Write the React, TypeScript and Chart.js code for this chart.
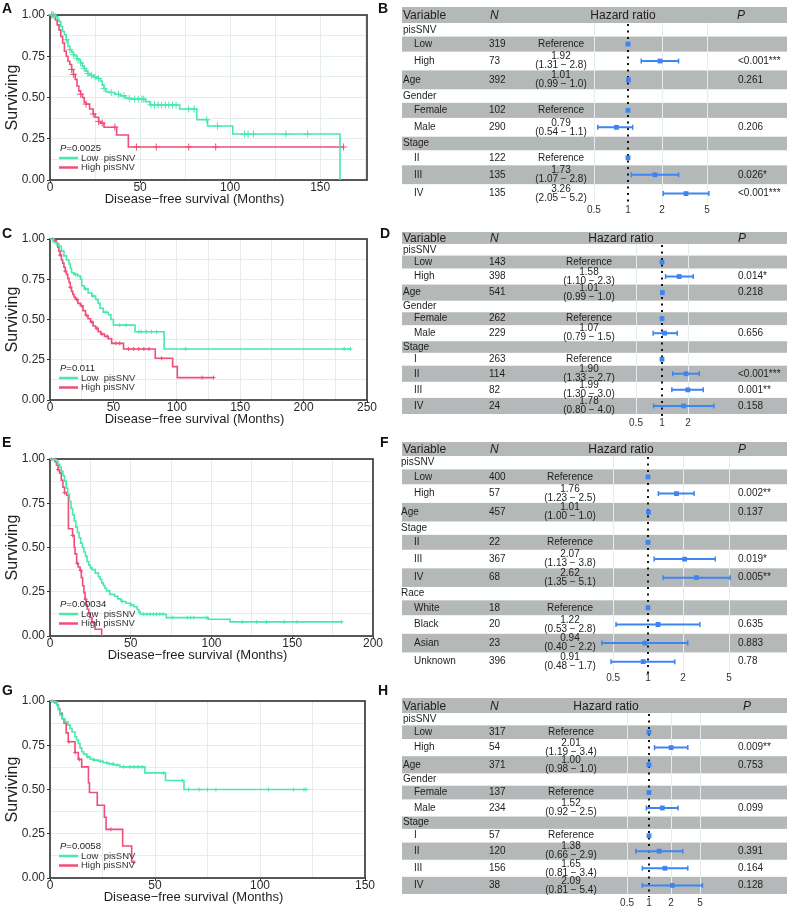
import React, { useEffect, useRef } from 'react';
import { Chart, registerables } from 'chart.js';

Chart.register(...registerables);

const FONT = '"Liberation Sans", Arial, Helvetica, sans-serif';
const GREEN = '#47e9ad';
const RED = '#f04d78';
const BLUE = '#3d85f2';
const BAND = '#b5b8b8';
const GRID = '#e5ecec';
const INK = '#1e1e1e';

// ---------------- Kaplan-Meier data ----------------
// Panel A
const aLowTime = [0, 2, 3, 4, 5, 6, 7, 8, 9, 10, 11, 12, 13, 14, 15, 16, 17, 18, 19, 20, 21, 22, 24, 26, 28, 29, 30, 31, 33, 36, 39, 42, 45, 53, 55.5, 72, 81.5, 87.5, 101.5, 161];
const aLowSurv = [1, 1, 0.99, 0.975, 0.96, 0.93, 0.9, 0.88, 0.85, 0.81, 0.79, 0.775, 0.76, 0.75, 0.735, 0.725, 0.71, 0.69, 0.675, 0.66, 0.645, 0.635, 0.625, 0.615, 0.6, 0.575, 0.555, 0.535, 0.53, 0.52, 0.51, 0.495, 0.49, 0.475, 0.455, 0.43, 0.365, 0.327, 0.279, 0];
const aLowCensor = [1, 2, 3, 9, 11, 13, 15, 17, 19, 21, 23, 25, 27, 30, 34, 38, 41, 44, 47, 49, 51, 52, 56, 58, 60, 62, 64, 66, 68, 70, 77, 80, 87, 93, 108, 110, 113, 131, 143];
const aHighTime = [0, 3, 4, 5, 6, 7, 8, 9, 10, 11, 12, 13, 14, 15, 16, 17, 18, 19, 20, 22, 24, 25, 27, 28, 30, 37, 43.5, 163];
const aHighSurv = [1, 0.97, 0.94, 0.91, 0.87, 0.83, 0.78, 0.75, 0.72, 0.7, 0.67, 0.64, 0.61, 0.57, 0.54, 0.52, 0.5, 0.47, 0.46, 0.43, 0.4, 0.38, 0.355, 0.345, 0.32, 0.273, 0.2, 0.2];
const aHighCensor = [1, 12, 13, 17, 20, 24, 27, 29, 36, 48, 59, 77, 92, 163];
const aP = '0.0025';

// Panel C
const cLowTime = [0, 2.6, 5, 7, 9, 11, 13, 15, 16, 17, 19, 22, 24, 25, 27, 30, 33, 36, 38, 39.5, 42, 46, 48, 50, 67, 90, 237];
const cLowSurv = [1, 0.98, 0.97, 0.955, 0.925, 0.895, 0.87, 0.845, 0.82, 0.79, 0.78, 0.77, 0.75, 0.71, 0.69, 0.665, 0.645, 0.625, 0.6, 0.57, 0.545, 0.53, 0.5, 0.465, 0.424, 0.317, 0.317];
const cLowCensor = [2, 20, 28, 34, 44, 55, 60, 70, 72, 76, 80, 84, 107, 232, 237];
const cHighTime = [0, 3, 5, 6, 7, 8, 9, 10, 11, 12, 13, 14, 15, 16, 17, 18, 19, 20, 22, 24, 26, 28, 30, 32, 34, 36, 38, 40, 43, 46, 48.6, 58, 83, 96.7, 100.4, 129];
const cHighSurv = [1, 0.99, 0.975, 0.95, 0.925, 0.9, 0.87, 0.85, 0.825, 0.8, 0.78, 0.755, 0.73, 0.7, 0.675, 0.655, 0.64, 0.625, 0.6, 0.585, 0.555, 0.525, 0.505, 0.485, 0.46, 0.445, 0.425, 0.41, 0.395, 0.38, 0.352, 0.317, 0.259, 0.207, 0.139, 0.139];
const cHighCensor = [4, 8, 12, 16, 21, 25, 29, 33, 37, 41, 45, 52, 55, 62, 66, 70, 74, 78, 88, 120, 129];
const cP = '0.011';

// Panel E
const eLowTime = [0, 2, 4, 5, 6, 7, 8, 9, 10, 11, 12, 13, 14, 15, 16, 17, 18, 19, 20, 21, 22, 23, 24, 25, 26, 28, 30, 31, 32, 33, 34, 35, 37, 40, 42, 44, 47, 50, 52, 54, 55, 56, 72, 98, 111.5, 180.6];
const eLowSurv = [1, 0.995, 0.985, 0.97, 0.955, 0.93, 0.905, 0.875, 0.835, 0.8, 0.76, 0.72, 0.685, 0.65, 0.615, 0.585, 0.555, 0.525, 0.5, 0.475, 0.45, 0.42, 0.4, 0.385, 0.375, 0.355, 0.335, 0.32, 0.3, 0.285, 0.27, 0.255, 0.235, 0.225, 0.21, 0.195, 0.185, 0.175, 0.165, 0.15, 0.135, 0.123, 0.104, 0.095, 0.08, 0.08];
const eLowCensor = [1, 3, 45, 50, 58, 60, 62, 64, 66, 68, 70, 76, 85, 87, 89, 97, 119, 128, 134, 145, 153, 180.6];
const eHighTime = [0, 3, 4, 5, 6, 7, 8, 9, 10.3, 11.4, 14, 15, 15.5, 16.5, 17.5, 18.6, 19.4, 20.2, 21, 21.7, 22.5, 23.1, 24, 24.8, 26, 27.9, 32];
const eHighSurv = [1, 0.985, 0.966, 0.94, 0.92, 0.88, 0.84, 0.81, 0.795, 0.606, 0.568, 0.5, 0.464, 0.41, 0.39, 0.37, 0.33, 0.284, 0.245, 0.208, 0.175, 0.151, 0.125, 0.104, 0.075, 0.038, 0];
const eHighCensor = [5, 9, 14, 17, 19, 22];
const eP = '0.00034';

// Panel G
const gLowTime = [0, 1.6, 3.2, 4, 4.8, 6, 7.1, 8.5, 9.5, 10.5, 11.9, 12.7, 13.5, 14.3, 15.1, 16, 17.5, 19, 20.6, 23, 25.4, 28, 30.2, 33.3, 45.2, 55, 63.8, 122];
const gLowSurv = [1, 0.995, 0.977, 0.95, 0.921, 0.9, 0.883, 0.865, 0.845, 0.825, 0.798, 0.78, 0.76, 0.735, 0.713, 0.7, 0.685, 0.672, 0.666, 0.66, 0.651, 0.645, 0.638, 0.628, 0.594, 0.551, 0.5, 0.5];
const gLowCensor = [1, 2, 18, 21, 24, 27, 30, 32, 35, 38, 40, 42, 44, 54, 63, 66, 71, 75, 79, 104, 116, 121, 122];
const gHighTime = [0, 2.4, 3.2, 4, 4.8, 5.8, 6.7, 7.7, 8.7, 11.9, 13.5, 15.1, 18.3, 18.8, 22.5, 25.9, 26.7, 34.6, 38.9, 40];
const gHighSurv = [1, 0.99, 0.977, 0.955, 0.93, 0.9, 0.874, 0.82, 0.77, 0.709, 0.67, 0.628, 0.538, 0.483, 0.411, 0.343, 0.275, 0.181, 0.09, 0.09];
const gHighCensor = [9, 12, 14, 29, 40];
const gP = '0.0058';

const kmLegend = ['Low  pisSNV', 'High pisSNV'];

// ---------------- Forest data ----------------
const bVar = ['pisSNV', '', '', 'Age', 'Gender', '', '', 'Stage', '', '', ''];
const bLevel = ['', 'Low', 'High', '', '', 'Female', 'Male', '', 'II', 'III', 'IV'];
const bN = [null, 319, 73, 392, null, 102, 290, null, 122, 135, 135];
const bHR = [null, null, 1.92, 1.01, null, null, 0.79, null, null, 1.73, 3.26];
const bLo = [null, null, 1.31, 0.99, null, null, 0.54, null, null, 1.07, 2.05];
const bHi = [null, null, 2.8, 1.0, null, null, 1.1, null, null, 2.8, 5.2];
const bP = ['', '', '<0.001***', '0.261', '', '', '0.206', '', '', '0.026*', '<0.001***'];
const bTicks = [0.5, 1, 2, 5];

const dVar = ['pisSNV', '', '', 'Age', 'Gender', '', '', 'Stage', '', '', '', ''];
const dLevel = ['', 'Low', 'High', '', '', 'Female', 'Male', '', 'I', 'II', 'III', 'IV'];
const dN = [null, 143, 398, 541, null, 262, 229, null, 263, 114, 82, 24];
const dHR = [null, null, 1.58, 1.01, null, null, 1.07, null, null, 1.9, 1.99, 1.78];
const dLo = [null, null, 1.1, 0.99, null, null, 0.79, null, null, 1.33, 1.3, 0.8];
const dHi = [null, null, 2.3, 1.0, null, null, 1.5, null, null, 2.7, 3.0, 4.0];
const dP = ['', '', '0.014*', '0.218', '', '', '0.656', '', '', '<0.001***', '0.001**', '0.158'];
const dTicks = [0.5, 1, 2];

const fVar = ['pisSNV', '', '', 'Age', 'Stage', '', '', '', 'Race', '', '', '', ''];
const fLevel = ['', 'Low', 'High', '', '', 'II', 'III', 'IV', '', 'White', 'Black', 'Asian', 'Unknown'];
const fN = [null, 400, 57, 457, null, 22, 367, 68, null, 18, 20, 23, 396];
const fHR = [null, null, 1.76, 1.01, null, null, 2.07, 2.62, null, null, 1.22, 0.94, 0.91];
const fLo = [null, null, 1.23, 1.0, null, null, 1.13, 1.35, null, null, 0.53, 0.4, 0.48];
const fHi = [null, null, 2.5, 1.0, null, null, 3.8, 5.1, null, null, 2.8, 2.2, 1.7];
const fP = ['', '', '0.002**', '0.137', '', '', '0.019*', '0.005**', '', '', '0.635', '0.883', '0.78'];
const fTicks = [0.5, 1, 2, 5];

const hVar = ['pisSNV', '', '', 'Age', 'Gender', '', '', 'Stage', '', '', '', ''];
const hLevel = ['', 'Low', 'High', '', '', 'Female', 'Male', '', 'I', 'II', 'III', 'IV'];
const hN = [null, 317, 54, 371, null, 137, 234, null, 57, 120, 156, 38];
const hHR = [null, null, 2.01, 1.0, null, null, 1.52, null, null, 1.38, 1.65, 2.09];
const hLo = [null, null, 1.19, 0.98, null, null, 0.92, null, null, 0.66, 0.81, 0.81];
const hHi = [null, null, 3.4, 1.0, null, null, 2.5, null, null, 2.9, 3.4, 5.4];
const hP = ['', '', '0.009**', '0.753', '', '', '0.099', '', '', '0.391', '0.164', '0.128'];
const hTicks = [0.5, 1, 2, 5];

// ---------------- helpers ----------------
function txt(ctx: any, s: string, x: number, y: number, size: number, align: string = 'left', style: string = 'normal', weight: string = 'normal', color: string = INK) {
  ctx.font = `${style} ${weight} ${size}px ${FONT}`;
  ctx.textAlign = align;
  ctx.textBaseline = 'middle';
  ctx.fillStyle = color;
  ctx.fillText(s, x, y);
}

function stepValue(t: number[], s: number[], c: number) {
  let v = s[0];
  for (let i = 0; i < t.length; i++) if (t[i] <= c) v = s[i];
  return v;
}

function KMPanel(p: any) {
  const ref = useRef<HTMLCanvasElement | null>(null);
  useEffect(() => {
    const canvas = ref.current;
    if (!canvas) return;
    const xAxisH = p.top + p.height - p.plotBottom;
    const pts = (t: number[], s: number[]) => t.map((x, i) => ({ x, y: s[i] }));
    const cens = (t: number[], s: number[], c: number[]) => c.map((x) => ({ x, y: stepValue(t, s, x) }));
    const plugin = {
      id: 'kmDecor',
      beforeDatasetsDraw(chart: any) {
        const { ctx, chartArea: a } = chart;
        ctx.save();
        ctx.strokeStyle = '#3c3c3c';
        ctx.lineWidth = 1.7;
        ctx.strokeRect(a.left, a.top, a.right - a.left, a.bottom - a.top);
        ctx.restore();
      },
      afterDraw(chart: any) {
        const { ctx, chartArea: a } = chart;
        ctx.save();
        ctx.translate(12.5, (a.top + a.bottom) / 2);
        ctx.rotate(-Math.PI / 2);
        txt(ctx, 'Surviving', 0, 0, 16, 'center');
        ctx.restore();
        ctx.save();
        txt(ctx, 'Disease\u2212free survival (Months)', (a.left + a.right) / 2 - 14, a.bottom + 19.5, 13, 'center');
        const lx0 = a.left + 9;
        const lx1 = a.left + 28;
        const yP = a.bottom - 32;
        const yL = a.bottom - 22;
        const yH = a.bottom - 12.5;
        txt(ctx, 'P', lx0 + 1, yP, 9.5, 'left', 'italic');
        const w = ctx.measureText('P').width;
        txt(ctx, '=' + p.pval, lx0 + 1 + w, yP, 9.5, 'left');
        ctx.lineWidth = 2.5;
        ctx.strokeStyle = GREEN;
        ctx.beginPath(); ctx.moveTo(lx0, yL); ctx.lineTo(lx1, yL); ctx.stroke();
        ctx.strokeStyle = RED;
        ctx.beginPath(); ctx.moveTo(lx0, yH); ctx.lineTo(lx1, yH); ctx.stroke();
        txt(ctx, kmLegend[0], lx1 + 3, yL, 9.5, 'left', 'normal', 'normal', '#333');
        txt(ctx, kmLegend[1], lx1 + 3, yH, 9.5, 'left', 'normal', 'normal', '#333');
        ctx.restore();
      },
    };
    const chart = new Chart(canvas, {
      type: 'scatter',
      data: {
        datasets: [
          { data: pts(p.lowT, p.lowS), showLine: true, stepped: true, borderColor: GREEN, borderWidth: 1.6, pointRadius: 0, clip: 4 } as any,
          { data: pts(p.highT, p.highS), showLine: true, stepped: true, borderColor: RED, borderWidth: 1.6, pointRadius: 0, clip: 4 } as any,
          { data: cens(p.lowT, p.lowS, p.lowC), pointStyle: 'cross', pointRadius: p.cr, pointBorderWidth: 1, pointBorderColor: GREEN, borderColor: GREEN, clip: false } as any,
          { data: cens(p.highT, p.highS, p.highC), pointStyle: 'cross', pointRadius: p.cr, pointBorderWidth: 1, pointBorderColor: RED, borderColor: RED, clip: false } as any,
        ],
      },
      options: {
        animation: false,
        responsive: false,
        events: [],
        layout: { padding: { left: 0, right: p.width - p.plotRight, top: p.plotTop - p.top, bottom: 0 }, autoPadding: false } as any,
        plugins: { legend: { display: false }, tooltip: { enabled: false } },
        scales: {
          x: {
            type: 'linear',
            min: 0,
            max: p.xMax,
            afterFit: (s: any) => { s.height = xAxisH; },
            border: { display: false },
            grid: {
              color: GRID,
              lineWidth: 1,
              tickLength: 3,
              tickColor: (ctx: any) => (ctx.tick && ctx.tick.value % 50 === 0 ? '#333' : 'rgba(0,0,0,0)'),
            },
            ticks: {
              stepSize: 25,
              includeBounds: false,
              autoSkip: false,
              maxRotation: 0,
              padding: -3,
              color: '#2a2a2a',
              font: { family: FONT, size: 12 },
              callback: (v: any) => (Number(v) % 50 === 0 ? String(v) : ''),
            },
          } as any,
          y: {
            type: 'linear',
            min: 0,
            max: 1,
            afterFit: (s: any) => { s.width = p.plotLeft; },
            border: { display: false },
            grid: {
              color: GRID,
              lineWidth: 1,
              tickLength: 3,
              tickColor: (ctx: any) => (ctx.tick && Math.abs(ctx.tick.value * 4 - Math.round(ctx.tick.value * 4)) < 1e-6 ? '#333' : 'rgba(0,0,0,0)'),
            },
            ticks: {
              stepSize: 0.125,
              autoSkip: false,
              padding: 2,
              color: '#2a2a2a',
              font: { family: FONT, size: 12 },
              callback: (v: any) => (Math.abs(Number(v) * 4 - Math.round(Number(v) * 4)) < 1e-6 ? Number(v).toFixed(2) : ''),
            },
          } as any,
        },
      },
      plugins: [plugin as any],
    });
    return () => chart.destroy();
  }, []);
  return (
    <canvas
      ref={ref}
      width={p.width}
      height={p.height}
      style={{ position: 'absolute', left: p.left, top: p.top, width: p.width, height: p.height }}
    />
  );
}

function ForestPanel(p: any) {
  const ref = useRef<HTMLCanvasElement | null>(null);
  useEffect(() => {
    const canvas = ref.current;
    if (!canvas) return;
    const w = p.n.map((v: any, i: number) => (v == null ? 0.72 : p.hr[i] == null ? 0.8 : 1));
    const starts: number[] = [];
    let acc = 0;
    w.forEach((x: number) => { starts.push(acc); acc += x; });
    const centers = starts.map((s, i) => s + w[i] / 2);
    const total = acc;
    const xMin = 0.25;
    const xMax = 8;
    const areaL = p.p1 - p.dec * Math.log10(1 / xMin);
    const areaR = p.p1 + p.dec * Math.log10(xMax);
    const padL = areaL - p.left;
    const padR = p.left + p.width - areaR;
    const padT = p.rowsTop - p.top;
    const padB = p.top + p.height - p.rowsBottom;
    const bandL = 12;
    const bandW = 385;

    const ciSets: any[] = [];
    const caps: any[] = [];
    const squares: any[] = [];
    p.n.forEach((v: any, i: number) => {
      if (v == null) return;
      const h = p.hr[i];
      if (h != null) {
        ciSets.push({
          data: [{ x: p.lo[i], y: centers[i] }, { x: p.hi[i], y: centers[i] }],
          showLine: true, borderColor: BLUE, borderWidth: 2, pointRadius: 0,
        });
        caps.push({ x: p.lo[i], y: centers[i] }, { x: p.hi[i], y: centers[i] });
      }
      squares.push({ x: h == null ? 1 : h, y: centers[i] });
    });

    const plugin = {
      id: 'forestDecor',
      beforeDatasetsDraw(chart: any) {
        const { ctx, chartArea: a } = chart;
        const xs = chart.scales.x;
        const ys = chart.scales.y;
        ctx.save();
        ctx.fillStyle = BAND;
        ctx.fillRect(bandL, p.headTop - p.top, bandW, p.headBottom - p.headTop);
        starts.forEach((s, i) => {
          if (i % 2 === 1) {
            const y0 = ys.getPixelForValue(s);
            const y1 = ys.getPixelForValue(s + w[i]);
            ctx.fillRect(bandL, y0, bandW, y1 - y0);
          }
        });
        ctx.strokeStyle = GRID;
        ctx.lineWidth = 1;
        p.ticks.forEach((t: number) => {
          if (t === 1) return;
          const x = Math.round(xs.getPixelForValue(t)) + 0.5;
          ctx.beginPath(); ctx.moveTo(x, a.top); ctx.lineTo(x, a.bottom); ctx.stroke();
        });
        const x1 = xs.getPixelForValue(1);
        ctx.strokeStyle = '#111';
        ctx.lineWidth = 2;
        ctx.setLineDash([2, 4.5]);
        ctx.beginPath(); ctx.moveTo(x1, a.top + 1); ctx.lineTo(x1, a.bottom + 3); ctx.stroke();
        ctx.restore();
      },
      afterDraw(chart: any) {
        const { ctx } = chart;
        const xs = chart.scales.x;
        const ys = chart.scales.y;
        ctx.save();
        const hy = (p.headTop + p.headBottom) / 2 - p.top + 1;
        txt(ctx, 'Variable', 13, hy, 12);
        txt(ctx, 'N', 100, hy, 12, 'left', 'italic');
        txt(ctx, 'Hazard ratio', p.hrHeadX, hy, 12, 'center');
        txt(ctx, 'P', p.pHeadX, hy, 12, 'left', 'italic');
        centers.forEach((c, i) => {
          const y = ys.getPixelForValue(c);
          if (p.vars[i]) txt(ctx, p.vars[i], p.varX, y, 10);
          if (p.levels[i]) txt(ctx, p.levels[i], 24, y, 10);
          if (p.n[i] != null) {
            txt(ctx, String(p.n[i]), 99, y, 10);
            if (p.hr[i] == null) {
              txt(ctx, 'Reference', p.hrX, y, 10, 'center');
            } else {
              txt(ctx, p.hr[i].toFixed(2), p.hrX, y - 4.5, 10, 'center');
              txt(ctx, `(${p.lo[i].toFixed(2)} \u2212 ${p.hi[i].toFixed(1)})`, p.hrX, y + 4.5, 10, 'center');
            }
          }
          if (p.pv[i]) txt(ctx, p.pv[i], 348, y, 10);
        });
        p.ticks.forEach((t: number) => {
          txt(ctx, String(t), xs.getPixelForValue(t), p.tickY - p.top, 10, 'center', 'normal', 'normal', '#333');
        });
        ctx.restore();
      },
    };

    const chart = new Chart(canvas, {
      type: 'scatter',
      data: {
        datasets: [
          ...ciSets,
          { data: caps, pointStyle: 'line', pointRotation: 90, pointRadius: 2.5, pointBorderWidth: 1.5, pointBorderColor: BLUE, borderColor: BLUE },
          { data: squares, pointStyle: 'rect', pointRadius: 3.4, pointBorderWidth: 0, pointBackgroundColor: BLUE, backgroundColor: BLUE, borderColor: BLUE },
        ] as any,
      },
      options: {
        animation: false,
        responsive: false,
        events: [],
        layout: { padding: { left: padL, right: padR, top: padT, bottom: padB }, autoPadding: false } as any,
        plugins: { legend: { display: false }, tooltip: { enabled: false } },
        scales: {
          x: { type: 'logarithmic', min: xMin, max: xMax, display: false, bounds: 'data' } as any,
          y: { type: 'linear', min: 0, max: total, reverse: true, display: false } as any,
        },
      },
      plugins: [plugin as any],
    });
    return () => chart.destroy();
  }, []);
  return (
    <canvas
      ref={ref}
      width={p.width}
      height={p.height}
      style={{ position: 'absolute', left: p.left, top: p.top, width: p.width, height: p.height }}
    />
  );
}

function Letter({ x, y, t }: { x: number; y: number; t: string }) {
  return (
    <div style={{ position: 'absolute', left: x, top: y, font: `bold 14px ${FONT}`, lineHeight: '14px', color: '#111' }}>{t}</div>
  );
}

export default function App() {
  return (
    <div style={{ position: 'absolute', left: 0, top: 0, width: 789, height: 908, background: '#fff', overflow: 'hidden' }}>
      <KMPanel left={0} top={0} width={380} height={215} plotLeft={50} plotTop={15} plotBottom={180} plotRight={367} xMax={176}
        lowT={aLowTime} lowS={aLowSurv} lowC={aLowCensor} highT={aHighTime} highS={aHighSurv} highC={aHighCensor} pval={aP} cr={3.5} />
      <KMPanel left={0} top={216} width={380} height={216} plotLeft={50} plotTop={239} plotBottom={400} plotRight={367} xMax={250}
        lowT={cLowTime} lowS={cLowSurv} lowC={cLowCensor} highT={cHighTime} highS={cHighSurv} highC={cHighCensor} pval={cP} cr={2} />
      <KMPanel left={0} top={436} width={385} height={228} plotLeft={50} plotTop={459} plotBottom={636} plotRight={373} xMax={200}
        lowT={eLowTime} lowS={eLowSurv} lowC={eLowCensor} highT={eHighTime} highS={eHighSurv} highC={eHighCensor} pval={eP} cr={2} />
      <KMPanel left={0} top={672} width={380} height={236} plotLeft={50} plotTop={701} plotBottom={878} plotRight={365} xMax={150}
        lowT={gLowTime} lowS={gLowSurv} lowC={gLowCensor} highT={gHighTime} highS={gHighSurv} highC={gHighCensor} pval={gP} cr={2} />

      <ForestPanel left={390} top={0} width={399} height={216} headTop={7} headBottom={23} rowsTop={23} rowsBottom={203} tickY={210}
        p1={628} dec={113} hrX={171} hrHeadX={233} pHeadX={347} varX={13}
        vars={bVar} levels={bLevel} n={bN} hr={bHR} lo={bLo} hi={bHi} pv={bP} ticks={bTicks} />
      <ForestPanel left={390} top={216} width={399} height={212} headTop={232} headBottom={244} rowsTop={244} rowsBottom={414} tickY={423}
        p1={662} dec={86.4} hrX={199} hrHeadX={231} pHeadX={348} varX={13}
        vars={dVar} levels={dLevel} n={dN} hr={dHR} lo={dLo} hi={dHi} pv={dP} ticks={dTicks} />
      <ForestPanel left={390} top={436} width={399} height={248} headTop={442} headBottom={456} rowsTop={456} rowsBottom={671} tickY={678}
        p1={648} dec={116} hrX={180} hrHeadX={231} pHeadX={348} varX={11}
        vars={fVar} levels={fLevel} n={fN} hr={fHR} lo={fLo} hi={fHi} pv={fP} ticks={fTicks} />
      <ForestPanel left={390} top={690} width={399} height={218} headTop={698} headBottom={713} rowsTop={713} rowsBottom={894} tickY={903}
        p1={649} dec={73} hrX={181} hrHeadX={216} pHeadX={353} varX={13}
        vars={hVar} levels={hLevel} n={hN} hr={hHR} lo={hLo} hi={hHi} pv={hP} ticks={hTicks} />

      <Letter x={2} y={1} t="A" />
      <Letter x={378} y={1} t="B" />
      <Letter x={2} y={226} t="C" />
      <Letter x={380} y={226} t="D" />
      <Letter x={2} y={435} t="E" />
      <Letter x={380} y={435} t="F" />
      <Letter x={2} y={683} t="G" />
      <Letter x={378} y={683} t="H" />
    </div>
  );
}
